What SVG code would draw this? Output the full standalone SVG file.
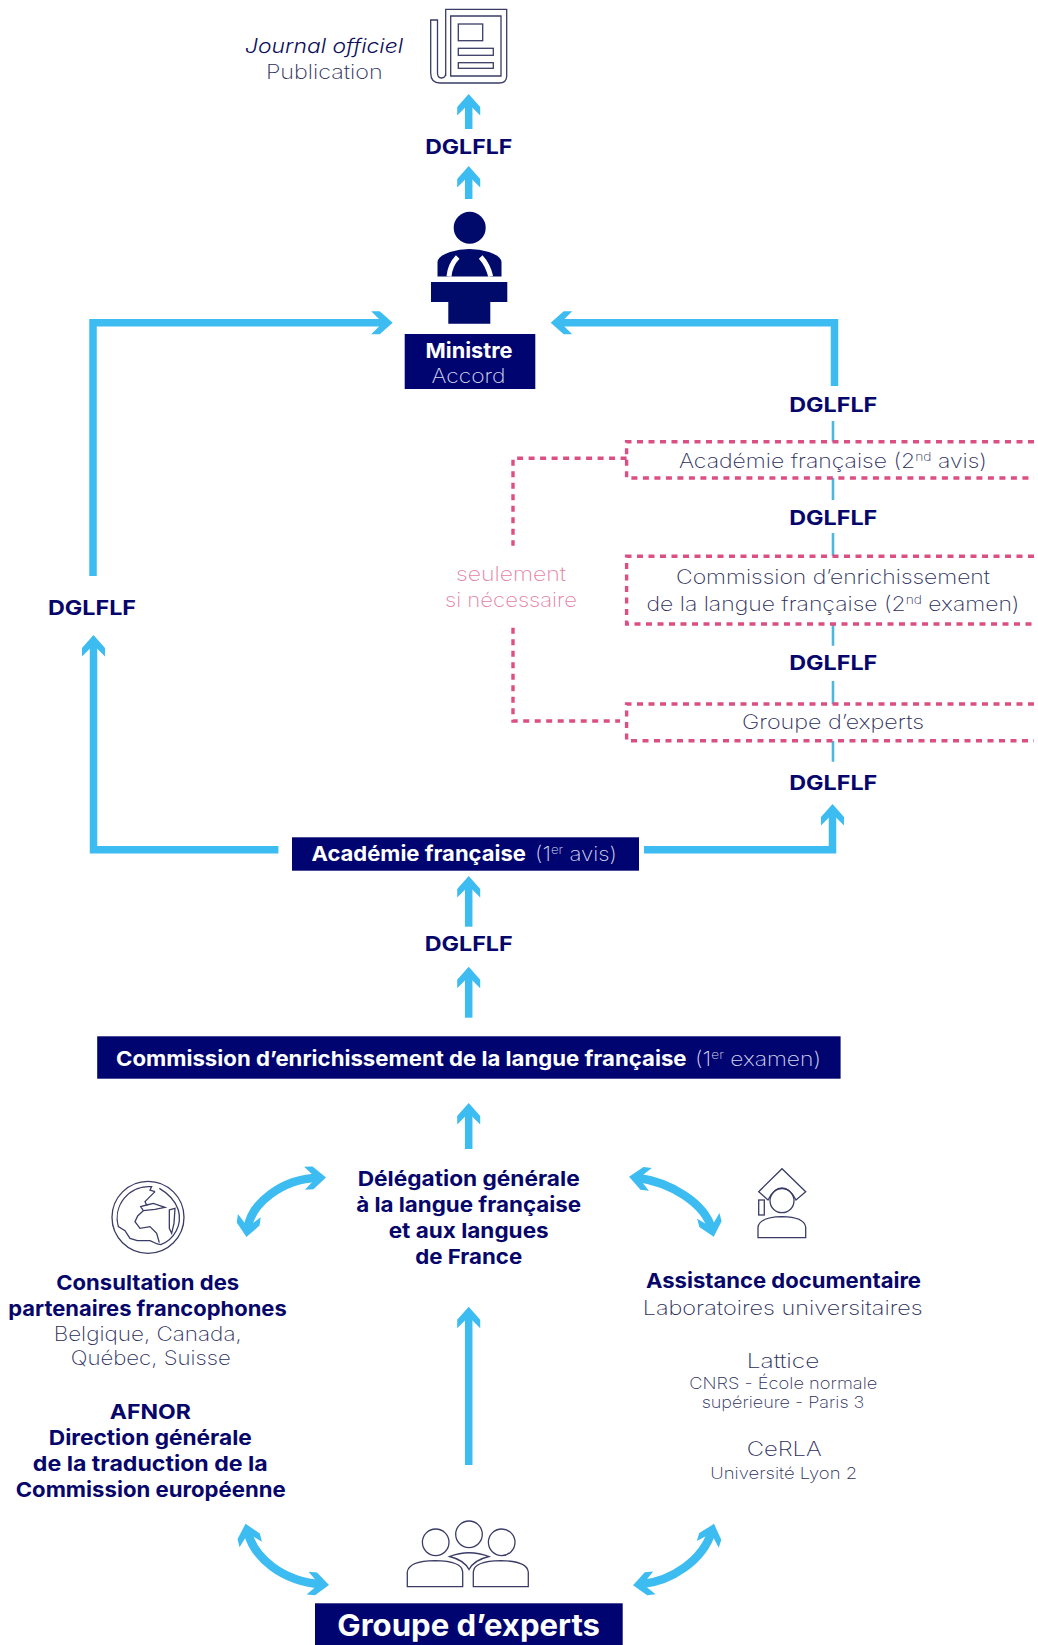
<svg xmlns="http://www.w3.org/2000/svg" width="1038" height="1645" viewBox="0 0 1038 1645">
<style>
text{font-family:Inter,"Noto Sans","Liberation Sans",sans-serif}
.b{font-weight:700;fill:#06066b;font-size:20.5px;text-anchor:middle}
.w{font-weight:700;fill:#fff;font-size:20.5px}
.l{font-weight:200;fill:#2c2e5c;font-size:20px;text-anchor:middle}
.s{font-weight:200;fill:#2c2e5c;font-size:16.5px;text-anchor:middle}
.wl{font-weight:200;fill:#d5d8ee;font-size:20px}
.p{font-weight:200;fill:#e67fa5;font-size:20px;text-anchor:middle}
.box{fill:#000470}
.ico{fill:none;stroke:#3a3c66;stroke-width:1.3}
.nv{fill:#000a6a}
.ar{fill:none;stroke:#3dbcf1;stroke-width:7.5;marker-end:url(#h)}
.ar2{fill:none;stroke:#3dbcf1;stroke-width:8.5;marker-end:url(#h);marker-start:url(#h)}
.thin{fill:none;stroke:#4cb8dc;stroke-width:2.6}
.dash{fill:none;stroke:#dc4f82;stroke-width:3.4;stroke-dasharray:6 5.5}
</style>
<defs>
<marker id="h" markerUnits="userSpaceOnUse" markerWidth="26" markerHeight="26" viewBox="0 0 26 26" refX="15" refY="13" orient="auto-start-reverse">
<path d="M23,13 L10,1.5 H1.5 L9.5,9.5 V16.5 L1.5,24.5 H10 Z" fill="#3dbcf1"/>
</marker>
</defs>

<g id="connectors">
<path class="ar" d="M468.7,129V102"/>
<path class="ar" d="M468.7,199V174"/>
<path class="ar" d="M93,576V322.7H384.7"/>
<path class="ar" d="M278.4,849.7H93.5V643"/>
<path class="ar" d="M834.5,386V322.7H558.7"/>
<path class="ar" d="M644,849.7H832.5V812"/>
<path class="ar" d="M468.7,926.7V884"/>
<path class="ar" d="M468.7,1017.7V974.7"/>
<path class="ar" d="M468.7,1149V1111"/>
<path class="ar" d="M468.7,1465V1314.7"/>
<path class="ar2" d="M247.5,1229C251,1203 282,1179 318,1177.7"/>
<path class="ar2" d="M637,1177.7C670,1182 705,1203 711.7,1229"/>
<path class="ar2" d="M247.5,1531.5C254,1558 282,1581 321,1584.3"/>
<path class="ar2" d="M711.7,1531.5C703,1560 672,1581 641,1584.3"/>
<path class="thin" d="M833,421V441.7M833,478V500M833,533V556M833,624V645.7M833,681V704M833,741V761.7"/>
<path class="dash" d="M626.6,458.3H513V545.7M513,627.7V721H620"/>
</g>

<g id="journal">
<path class="ico" d="M445.7,76V9.3H506.7V76Q506.7,83 499,83H440Q430.7,83 430.7,73V20H437.5V73Q437.5,78 441.5,78Q445.7,78 445.7,73M450.7,76V16H501V76Z"/>
<rect class="ico" x="458.3" y="24" width="24.4" height="16.7"/>
<rect class="ico" x="458.3" y="48.3" width="35" height="7"/>
<rect class="ico" x="458.3" y="62.7" width="35" height="5.6"/>
<text class="l" x="324" y="52.7" style="font-style:italic;font-weight:300;fill:#0c0e5a" textLength="158" lengthAdjust="spacingAndGlyphs">Journal officiel</text>
<text class="l" x="324.3" y="79.3" textLength="116.7" lengthAdjust="spacingAndGlyphs">Publication</text>
</g>

<g id="dglflf-labels">
<text class="b" x="468.7" y="154" textLength="87" lengthAdjust="spacingAndGlyphs">DGLFLF</text>
<text class="b" x="833.3" y="411.7" textLength="88" lengthAdjust="spacingAndGlyphs">DGLFLF</text>
<text class="b" x="833.3" y="525" textLength="88" lengthAdjust="spacingAndGlyphs">DGLFLF</text>
<text class="b" x="833.3" y="670" textLength="88" lengthAdjust="spacingAndGlyphs">DGLFLF</text>
<text class="b" x="833.3" y="790" textLength="88" lengthAdjust="spacingAndGlyphs">DGLFLF</text>
<text class="b" x="92" y="615" textLength="88" lengthAdjust="spacingAndGlyphs">DGLFLF</text>
<text class="b" x="468.7" y="951" textLength="88" lengthAdjust="spacingAndGlyphs">DGLFLF</text>
</g>

<g id="ministre">
<circle class="nv" cx="469.7" cy="227.7" r="16"/>
<path class="nv" d="M437.5,276.5V262Q438,256 450,252Q469,246 489,252Q501,256 501.5,262V276.5Z"/>
<path d="M449,276.5Q450,265 457.7,257M490.7,276.5Q488,265 480.7,257" fill="none" stroke="#fff" stroke-width="5"/>
<path class="nv" d="M431,282H507.3V302H490.3V323.7H448.3V302H431Z"/>
<rect class="box" x="404.7" y="334" width="130.6" height="55"/>
<text class="w" x="469" y="358" text-anchor="middle" textLength="87" lengthAdjust="spacingAndGlyphs">Ministre</text>
<text class="wl" x="468.5" y="383" text-anchor="middle" textLength="74" lengthAdjust="spacingAndGlyphs">Accord</text>
</g>

<g id="academie-2">
<path class="dash" d="M1034,441.7H626.6V478H1034"/>
<text class="l" x="833" y="468.3" textLength="308" lengthAdjust="spacingAndGlyphs">Académie française (2<tspan dy="-7" font-size="12">nd</tspan><tspan dy="7"> avis)</tspan></text>
</g>
<g id="commission-2">
<path class="dash" d="M1034,556.3H626.6V624H1034"/>
<text class="l" x="833" y="584" textLength="314" lengthAdjust="spacingAndGlyphs">Commission d’enrichissement</text>
<text class="l" x="833" y="610.7" textLength="373" lengthAdjust="spacingAndGlyphs">de la langue française (2<tspan dy="-7" font-size="12">nd</tspan><tspan dy="7"> examen)</tspan></text>
</g>
<g id="groupe-2">
<path class="dash" d="M1034,704H626.6V740.7H1034"/>
<text class="l" x="833" y="729" textLength="182" lengthAdjust="spacingAndGlyphs">Groupe d’experts</text>
</g>
<g id="note">
<text class="p" x="511" y="580.7" textLength="110" lengthAdjust="spacingAndGlyphs">seulement</text>
<text class="p" x="511" y="607.3" textLength="132" lengthAdjust="spacingAndGlyphs">si nécessaire</text>
</g>

<g id="academie-1">
<rect class="box" x="292" y="837.3" width="347" height="33.4"/>
<text class="w" x="311.5" y="860.7" textLength="214.4" lengthAdjust="spacingAndGlyphs">Académie française</text>
<text class="wl" x="535" y="860.7" textLength="82" lengthAdjust="spacingAndGlyphs">(1<tspan dy="-7" font-size="12">er</tspan><tspan dy="7"> avis)</tspan></text>
</g>
<g id="commission-1">
<rect class="box" x="97.2" y="1036.3" width="743.4" height="42.4"/>
<text class="w" x="116" y="1065.7" textLength="570.5" lengthAdjust="spacingAndGlyphs">Commission d’enrichissement de la langue française</text>
<text class="wl" x="695" y="1065.7" textLength="126" lengthAdjust="spacingAndGlyphs">(1<tspan dy="-7" font-size="12">er</tspan><tspan dy="7"> examen)</tspan></text>
</g>

<g id="delegation">
<text class="b" x="468.7" y="1186" textLength="222" lengthAdjust="spacingAndGlyphs">Délégation générale</text>
<text class="b" x="468.7" y="1212" textLength="225" lengthAdjust="spacingAndGlyphs">à la langue française</text>
<text class="b" x="468.7" y="1238" textLength="160" lengthAdjust="spacingAndGlyphs">et aux langues</text>
<text class="b" x="468.7" y="1264" textLength="107" lengthAdjust="spacingAndGlyphs">de France</text>
</g>

<g id="partenaires">
<circle class="ico" cx="148" cy="1217.3" r="36"/>
<g transform="translate(100,1170) scale(.3333)" fill="none" stroke="#3a3c66" stroke-width="3.9">
<path d="M165,65L150,60L155,50A95,95 0 0 0 55,170L75,182L90,205L112,212L150,212L172,222L182,224A86,86 0 0 0 235,120Q222,80 178,55"/>
<path d="M165,65L150,80L135,95L140,105L122,110L130,122L113,138L105,155L120,175L150,170L170,190L178,218"/>
<path d="M140,105L160,100L195,112L165,118L130,122"/>
<path d="M208,120L225,115L222,160L215,190L208,175Z"/>
</g>
<text class="b" x="147.7" y="1290" textLength="183" lengthAdjust="spacingAndGlyphs">Consultation des</text>
<text class="b" x="147.5" y="1315.7" textLength="278.4" lengthAdjust="spacingAndGlyphs">partenaires francophones</text>
<text class="l" x="147.7" y="1341" textLength="188" lengthAdjust="spacingAndGlyphs">Belgique, Canada,</text>
<text class="l" x="150.7" y="1365" textLength="160" lengthAdjust="spacingAndGlyphs">Québec, Suisse</text>
<text class="b" x="150.3" y="1419.3" textLength="81" lengthAdjust="spacingAndGlyphs">AFNOR</text>
<text class="b" x="150.3" y="1445" textLength="203" lengthAdjust="spacingAndGlyphs">Direction générale</text>
<text class="b" x="150.3" y="1471" textLength="235" lengthAdjust="spacingAndGlyphs">de la traduction de la</text>
<text class="b" x="150.7" y="1497" textLength="270" lengthAdjust="spacingAndGlyphs">Commission européenne</text>
</g>

<g id="assistance">
<path class="ico" d="M758.7,1191.7L782,1168.7L805.7,1191.7L796,1200Q790,1188 782,1188Q774,1188 768,1200Z"/>
<circle class="ico" cx="782" cy="1200.7" r="12"/>
<rect class="ico" x="758.7" y="1200" width="5.6" height="15"/>
<path class="ico" d="M758,1237.7V1227Q760,1217 782,1216.7Q804,1217 805.7,1227V1237.7Z"/>
<text class="b" x="783.5" y="1287.7" textLength="275" lengthAdjust="spacingAndGlyphs">Assistance documentaire</text>
<text class="l" x="782.7" y="1315" textLength="280" lengthAdjust="spacingAndGlyphs">Laboratoires universitaires</text>
<text class="l" x="783" y="1367.7" textLength="72.7" lengthAdjust="spacingAndGlyphs">Lattice</text>
<text class="s" x="783.3" y="1388.7" textLength="188" lengthAdjust="spacingAndGlyphs">CNRS - École normale</text>
<text class="s" x="783" y="1408.3" textLength="162.7" lengthAdjust="spacingAndGlyphs">supérieure - Paris 3</text>
<text class="l" x="784.2" y="1456" textLength="75" lengthAdjust="spacingAndGlyphs">CeRLA</text>
<text class="s" x="783.7" y="1479.3" textLength="147" lengthAdjust="spacingAndGlyphs">Université Lyon 2</text>
</g>

<g id="groupe-experts">
<circle class="ico" cx="435.7" cy="1542.3" r="13.3"/>
<circle class="ico" cx="469" cy="1534.3" r="13.3"/>
<circle class="ico" cx="501.7" cy="1542.3" r="13.3"/>
<path class="ico" d="M407.3,1586.7V1572Q409,1561 435,1560.7Q462,1561 462.7,1572V1586.7Z"/>
<path class="ico" d="M473.3,1586.7V1572Q474,1561 501,1560.7Q527,1561 528.3,1572V1586.7Z"/>
<path class="ico" d="M449.5,1556.5Q469,1549 489,1556.5Q474,1560 469,1569.5Q464,1560 449.5,1556.5Z"/>
<rect class="box" x="315" y="1603.3" width="307.7" height="41.7"/>
<text class="w" x="337.3" y="1636" style="font-size:30px" textLength="262.7" lengthAdjust="spacingAndGlyphs">Groupe d’experts</text>
</g>
</svg>
